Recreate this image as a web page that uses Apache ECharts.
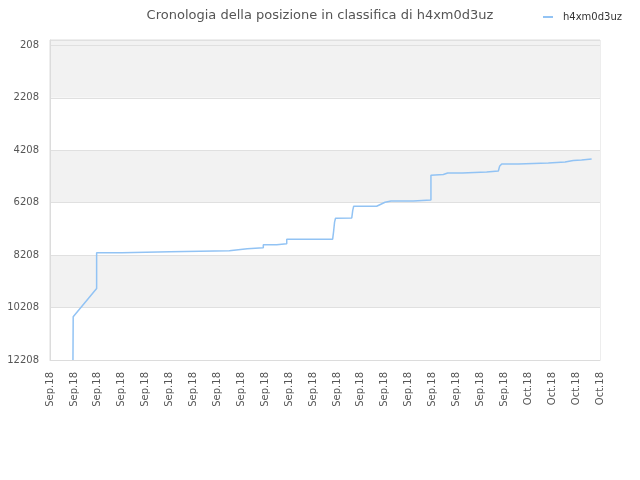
<!DOCTYPE html>
<html>
<head>
<meta charset="utf-8">
<script src="https://cdn.jsdelivr.net/npm/echarts@6/dist/echarts.min.js"></script>
<style>
html,body{margin:0;padding:0;background:#fff;}
#chart{width:640px;height:480px;}
</style>
</head>
<body>
<div id="chart"></div>
<script>
const titleText = 'Cronologia della posizione in classifica di h4xm0d3uz';
const seriesName = 'h4xm0d3uz';

const xLabels = ['Sep.18','Sep.18','Sep.18','Sep.18','Sep.18','Sep.18','Sep.18','Sep.18',
  'Sep.18','Sep.18','Sep.18','Sep.18','Sep.18','Sep.18','Sep.18','Sep.18',
  'Sep.18','Sep.18','Sep.18','Sep.18','Oct.18','Oct.18','Oct.18','Oct.18'];

const yTicks = [208, 2208, 4208, 6208, 8208, 10208, 12208];
const yTop = 1;

// position along the time axis (in label steps) and rank
const timePos = [0.96, 0.97, 1.95, 1.95, 3.0, 3.0, 5.02, 5.02, 7.5, 7.5,
  8.25, 8.25, 8.92, 8.92, 9.48, 9.48, 9.9, 9.9, 11.82, 11.86,
  11.9, 11.94, 12.62, 12.66, 12.7, 13.66, 14.01, 14.26, 15.19, 15.23,
  15.93, 15.93, 16.45, 16.63, 17.24, 17.24, 18.26, 18.26, 18.75, 18.8,
  18.89, 19.58, 19.58, 20.84, 20.84, 21.54, 21.88, 22.23, 22.23, 22.65];
const rankVals = [12208, 10558, 9477, 8120, 8120, 8082, 8082, 8044, 8044, 7968,
  7968, 7930, 7930, 7816, 7816, 7778, 7778, 7598, 7598, 7300,
  6950, 6800, 6787, 6500, 6341, 6341, 6189, 6140, 6140, 6101,
  6101, 5160, 5134, 5073, 5073, 5035, 5035, 4996, 4996, 4820,
  4730, 4730, 4692, 4692, 4654, 4654, 4600, 4577, 4539, 4539];

const points = timePos.map((x, i) => [x, rankVals[i]]);

const chart = echarts.init(document.getElementById('chart'));
chart.setOption({
  animation: false,
  backgroundColor: '#fff',
  textStyle: { fontFamily: 'DejaVu Sans' },
  title: {
    text: titleText,
    left: 'center',
    top: 4,
    textStyle: { fontFamily: 'DejaVu Sans', fontSize: 13, fontWeight: 'normal', color: '#555' }
  },
  legend: {
    right: 13,
    top: 7,
    icon: 'rect',
    itemWidth: 10,
    itemHeight: 2,
    textStyle: { fontFamily: 'DejaVu Sans', fontSize: 10, color: '#333', padding: [0, 0, 0, 5] },
    data: [seriesName]
  },
  grid: {
    left: 50, right: 40, top: 40, bottom: 120,
    show: true, borderColor: '#dcdcdc', borderWidth: 1, backgroundColor: 'transparent'
  },
  xAxis: {
    type: 'value',
    min: 0, max: xLabels.length - 1, interval: 1,
    axisLine: { show: true, lineStyle: { color: '#dcdcdc' } },
    axisTick: { show: false },
    splitLine: { show: false },
    axisLabel: {
      rotate: 90, margin: 12, fontSize: 10, color: '#555', fontFamily: 'DejaVu Sans',
      hideOverlap: false,
      formatter: v => xLabels[Math.round(v)]
    }
  },
  yAxis: {
    type: 'value',
    inverse: true,
    min: yTop, max: yTicks[yTicks.length - 1],
    axisLine: { show: true, lineStyle: { color: '#dcdcdc' } },
    axisTick: { show: false, customValues: [yTop].concat(yTicks) },
    axisLabel: {
      customValues: yTicks, margin: 11, fontSize: 10, color: '#555', fontFamily: 'DejaVu Sans',
      formatter: v => String(v)
    },
    splitLine: { show: true, lineStyle: { color: '#e0e0e0' } },
    splitArea: { show: true, areaStyle: { color: ['#f2f2f2', '#f2f2f2', '#ffffff', '#f2f2f2', '#ffffff', '#f2f2f2', '#ffffff'] } }
  },
  series: [{
    name: seriesName,
    type: 'line',
    data: points,
    showSymbol: false,
    symbol: 'none',
    clip: true,
    lineStyle: { color: '#92c3f4', width: 1.5 },
    itemStyle: { color: '#92c3f4' }
  }]
});
</script>
</body>
</html>
